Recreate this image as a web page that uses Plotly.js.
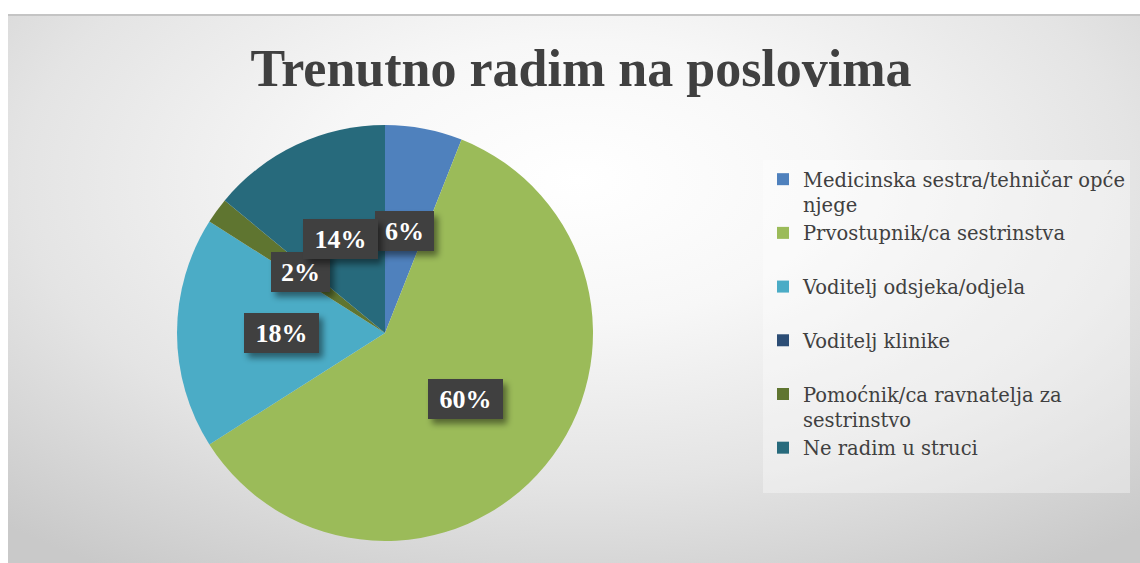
<!DOCTYPE html>
<html>
<head>
<meta charset="utf-8">
<script src="https://cdn.plot.ly/plotly-3.0.1.min.js"></script>
<style>
  html, body { margin: 0; padding: 0; background: #ffffff; }
  #wrap { position: relative; width: 1140px; height: 563px; overflow: hidden; }
  #bg {
    position: absolute; left: 8px; top: 14px; width: 1140px; height: 549px;
    border-top: 2px solid #c4c4c4; box-sizing: border-box;
    background: radial-gradient(ellipse 75% 85% at 50% 30%, #ffffff 0%, #f7f7f7 30%, #e4e4e4 65%, #c9c9c9 100%);
  }
  #chart { position: absolute; left: 0; top: 0; width: 1140px; height: 563px; }
</style>
</head>
<body>
<div id="wrap">
  <div id="bg"></div>
  <div id="chart"></div>
</div>
<script>
// ---- data ----
const categories = [
  "Medicinska sestra/tehničar opće njege",
  "Prvostupnik/ca sestrinstva",
  "Voditelj odsjeka/odjela",
  "Voditelj klinike",
  "Pomoćnik/ca ravnatelja za sestrinstvo",
  "Ne radim u struci"
];
const legendLines = [
  ["Medicinska sestra/tehničar opće", "njege"],
  ["Prvostupnik/ca sestrinstva"],
  ["Voditelj odsjeka/odjela"],
  ["Voditelj klinike"],
  ["Pomoćnik/ca ravnatelja za", "sestrinstvo"],
  ["Ne radim u struci"]
];
const shares = [6, 60, 18, 0, 2, 14];
const sliceColors = ["#4F81BD", "#9BBB59", "#4BACC6", "#2C4D75", "#5F7530", "#276A7C"];

// ---- layout geometry (px) ----
const W = 1140, H = 563;
const CX = 385, CY = 333, R = 208;

const legendLabels = legendLines.map(l => l.length > 1 ? l.join("<br>") : l[0] + "<br>\u00a0");

const total = shares.reduce((a, b) => a + b, 0);
const annotations = [];
let cum = 0;
shares.forEach((v, i) => {
  const mid = (cum + v / 2) / total * 2 * Math.PI;
  cum += v;
  if (v <= 0) return;
  const txt = Math.round(v / total * 100) + "%";
  const px = CX + 0.5 * R * Math.sin(mid);
  const py = CY - 0.5 * R * Math.cos(mid);
  annotations.push({
    x: px / W, y: 1 - py / H, xref: "paper", yref: "paper",
    xanchor: "center", yanchor: "middle", showarrow: false,
    text: "<b>" + txt + "</b>",
    font: { family: "Liberation Serif, serif", size: 26, color: "#ffffff" },
    bgcolor: "#404040", borderpad: 0, borderwidth: 0,
    width: 27 + 16 * txt.length, height: 40
  });
});

const trace = {
  type: "pie",
  labels: legendLabels,
  values: shares,
  customdata: categories,
  hovertemplate: "%{customdata}: %{percent}<extra></extra>",
  sort: false,
  direction: "clockwise",
  rotation: 0,
  textinfo: "none",
  marker: { colors: sliceColors, line: { width: 0 } },
  domain: { x: [(CX - R) / W, (CX + R) / W], y: [1 - (CY + R) / H, 1 - (CY - R) / H] }
};

const layout = {
  width: W, height: H,
  margin: { l: 0, r: 0, t: 0, b: 0 },
  paper_bgcolor: "rgba(0,0,0,0)",
  plot_bgcolor: "rgba(0,0,0,0)",
  title: {
    text: "<b>Trenutno radim na poslovima</b>",
    font: { family: "Liberation Serif, serif", size: 52, color: "#404040" },
    x: 581 / W, xref: "paper", xanchor: "center",
    y: 1 - 68 / H, yref: "paper", yanchor: "middle"
  },
  legend: {
    x: 763 / W, xanchor: "left",
    y: 1 - 160 / H, yanchor: "top",
    font: { family: "DejaVu Serif, serif", size: 19.5, color: "#404040" },
    bgcolor: "rgba(255,255,255,0.35)",
    valign: "top",
    traceorder: "normal"
  },
  annotations: annotations,
  showlegend: true
};

Plotly.newPlot("chart", [trace], layout, { displayModeBar: false, staticPlot: true }).then(() => {
  const rects = document.querySelectorAll(".annotation rect.bg");
  rects.forEach(r => {
    const svg = r.ownerSVGElement;
    if (!svg.querySelector("#lblShadow")) {
      const ns = "http://www.w3.org/2000/svg";
      const defs = document.createElementNS(ns, "defs");
      const f = document.createElementNS(ns, "filter");
      f.setAttribute("id", "lblShadow");
      f.setAttribute("x", "-30%"); f.setAttribute("y", "-30%");
      f.setAttribute("width", "170%"); f.setAttribute("height", "180%");
      const ds = document.createElementNS(ns, "feDropShadow");
      ds.setAttribute("dx", "4"); ds.setAttribute("dy", "5");
      ds.setAttribute("stdDeviation", "3");
      ds.setAttribute("flood-color", "#000"); ds.setAttribute("flood-opacity", "0.45");
      f.appendChild(ds); defs.appendChild(f);
      svg.insertBefore(defs, svg.firstChild);
    }
    r.setAttribute("filter", "url(#lblShadow)");
  });
});
</script>
</body>
</html>
